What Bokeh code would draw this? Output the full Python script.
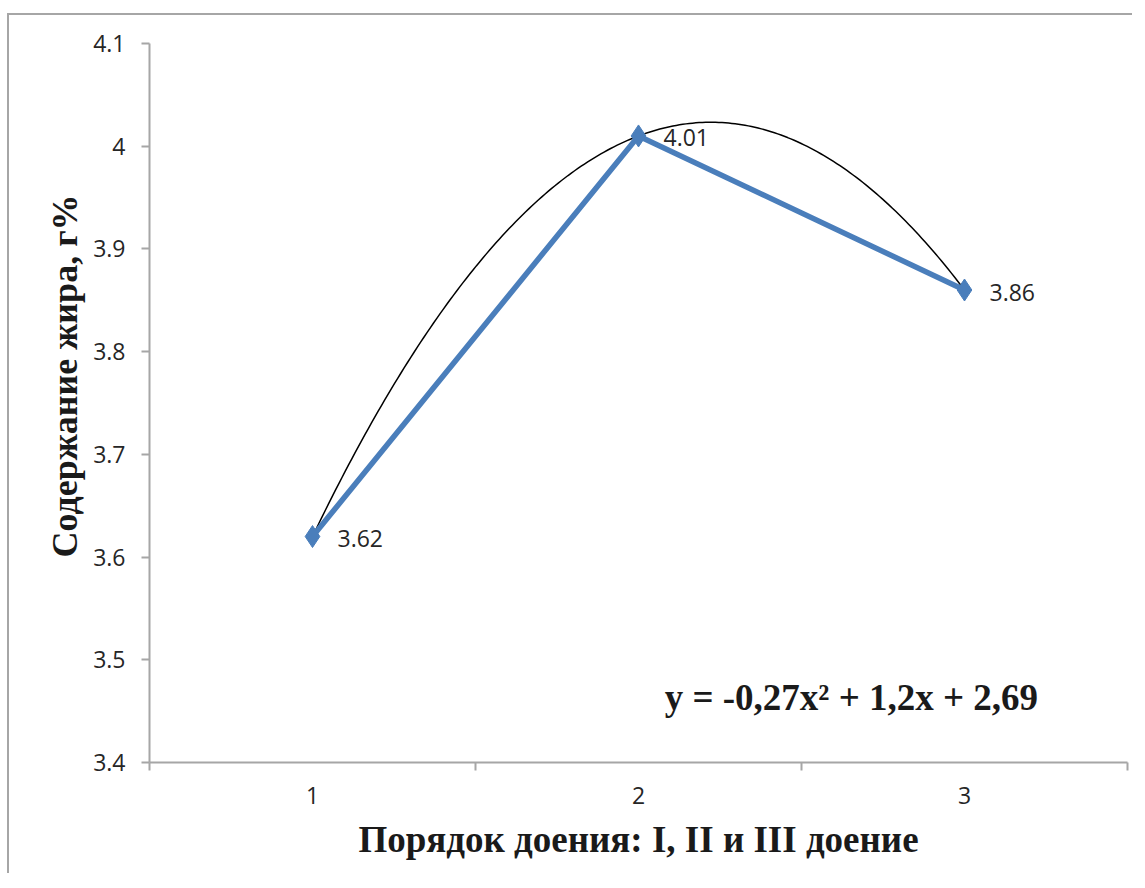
import numpy as np
from bokeh.plotting import figure
from bokeh.models import (ColumnDataSource, FixedTicker, LinearAxis, Range1d,
                          CustomJSTickFormatter, LabelSet, Label)
from bokeh.core.properties import value
from bokeh.embed import file_html
from bokeh.resources import INLINE

# ---- data ----
milking = [1, 2, 3]
fat = [3.62, 4.01, 3.86]
fat_labels = ["3.62", "4.01", "3.86"]
y_ticks = [3.4, 3.5, 3.6, 3.7, 3.8, 3.9, 4.0, 4.1]
x_tick_labels = ["1", "2", "3"]
trend_coef = [-0.27, 1.2, 2.69]  # y = a x^2 + b x + c (shown on chart)
equation_text = "y = -0,27x² + 1,2x + 2,69"
x_title = "Порядок доения: I, II и III доение"
y_title = "Содержание жира, г%"

GRID = "#a6a6a6"
BLUE = "#4a7ebb"
TXT = "#262626"

p = figure(width=1125, height=860, output_backend="svg", toolbar_location=None,
           x_range=Range1d(0.5, 3.5), y_range=Range1d(3.4, 4.1),
           min_border_left=140, min_border_right=7, min_border_top=28,
           min_border_bottom=113, x_axis_type=None, y_axis_type=None)
p.styles = {"margin-top": "13px", "margin-left": "7px",
            "border-left": "2px solid #a6a6a6",
            "border-top": "2px solid #a6a6a6"}
p.outline_line_color = None
p.background_fill_color = "white"
p.border_fill_color = "white"

# axes
xaxis = LinearAxis(ticker=FixedTicker(ticks=milking,
                                      minor_ticks=[0.5, 1.5, 2.5, 3.5]))
xaxis.major_label_overrides = {m: s for m, s in zip(milking, x_tick_labels)}
xaxis.major_tick_line_color = None
xaxis.minor_tick_in = 0
xaxis.minor_tick_out = 8
xaxis.minor_tick_line_color = GRID
xaxis.minor_tick_line_width = 2
xaxis.axis_line_color = GRID
xaxis.axis_line_width = 2
xaxis.major_label_text_font = "Open Sans"
xaxis.major_label_text_font_size = "23px"
xaxis.major_label_text_color = TXT
xaxis.major_label_standoff = 16
xaxis.axis_label = x_title
xaxis.axis_label_text_font = "Liberation Serif"
xaxis.axis_label_text_font_style = "bold"
xaxis.axis_label_text_font_size = "37px"
xaxis.axis_label_text_color = "#1a1a1a"
xaxis.axis_label_standoff = 12
p.add_layout(xaxis, "below")

yaxis = LinearAxis(ticker=FixedTicker(ticks=y_ticks))
yaxis.formatter = CustomJSTickFormatter(code="return Number(tick.toFixed(1)).toString();")
yaxis.major_tick_in = 0
yaxis.major_tick_out = 8
yaxis.major_tick_line_color = GRID
yaxis.major_tick_line_width = 2
yaxis.minor_tick_line_color = None
yaxis.axis_line_color = GRID
yaxis.axis_line_width = 2
yaxis.major_label_text_font = "Open Sans"
yaxis.major_label_text_font_size = "23px"
yaxis.major_label_text_color = TXT
yaxis.major_label_standoff = 16
# leading no-break spaces nudge the title slightly above the axis centre
yaxis.axis_label = "\u00a0" * 6 + y_title
yaxis.axis_label_text_font = "Liberation Serif"
yaxis.axis_label_text_font_style = "bold"
yaxis.axis_label_text_font_size = "36px"
yaxis.axis_label_text_color = "#1a1a1a"
yaxis.axis_label_standoff = 5
p.add_layout(yaxis, "left")

p.xgrid.visible = False
p.ygrid.ticker = FixedTicker(ticks=y_ticks)
p.ygrid.grid_line_color = GRID
p.ygrid.grid_line_width = 2

# trend line (from the chart's displayed equation)
tx = np.linspace(milking[0], milking[-1], 200)
ty = np.polyval(trend_coef, tx)
p.line(tx, ty, line_color="black", line_width=1.5)

src = ColumnDataSource(dict(x=milking, y=fat, lab=fat_labels))
p.line("x", "y", source=src, line_color=BLUE, line_width=5.5)
p.scatter("x", "y", source=src, marker="diamond", size=22, fill_color=BLUE,
          line_color=BLUE)

labels = LabelSet(x="x", y="y", text="lab", source=src, x_offset=25, y_offset=-2,
                  text_baseline="middle", text_font=value("Open Sans"),
                  text_font_size=value("23px"), text_color=TXT)
p.add_layout(labels)

eq = Label(x=2.653, y=3.463, text=equation_text, text_align="center",
           text_baseline="middle", text_font="Liberation Serif",
           text_font_style="bold", text_font_size="37px", text_color="#1a1a1a")
p.add_layout(eq)

open("out.html", "w").write(file_html(p, INLINE))
